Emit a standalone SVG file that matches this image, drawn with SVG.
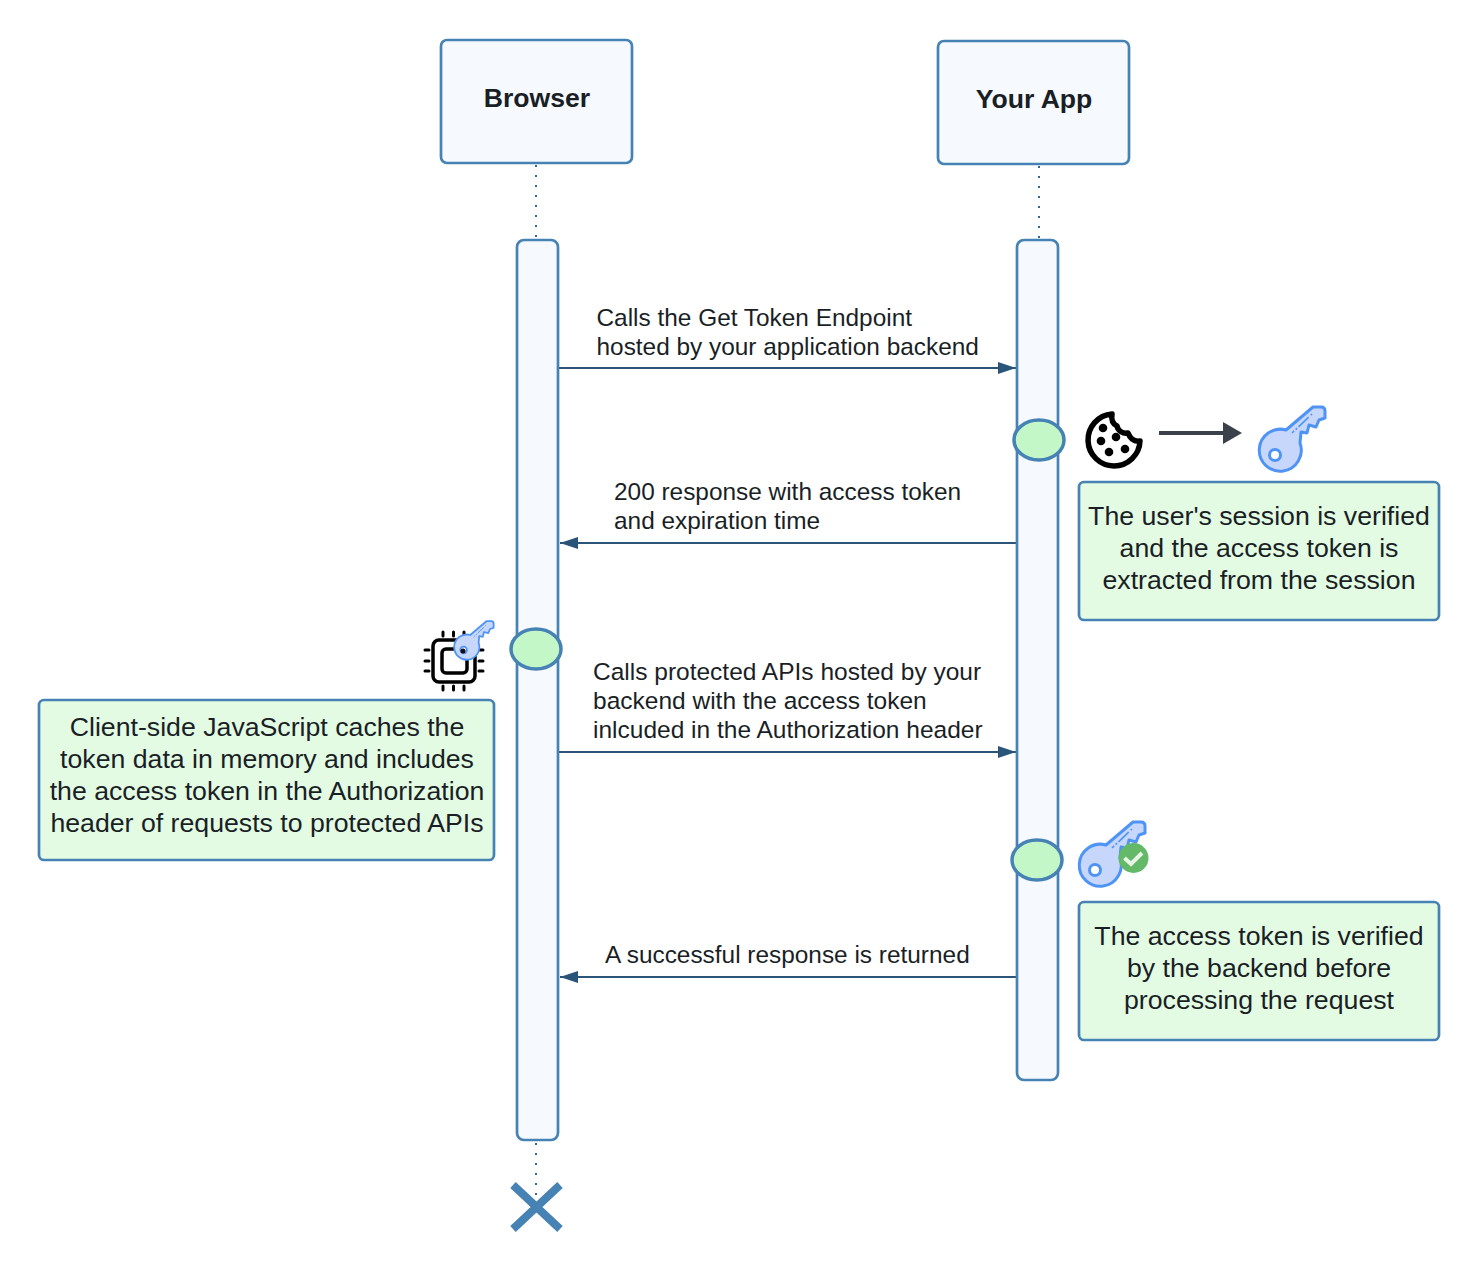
<svg xmlns="http://www.w3.org/2000/svg" width="1479" height="1274" viewBox="0 0 1479 1274">
<style>
text{font-family:"Liberation Sans",Arial,sans-serif;fill:#1a1f26}
.head{font-size:26.6px;font-weight:bold;text-anchor:middle}
.box{fill:#f6faff;stroke:#4682b4;stroke-width:2.7}
.note{fill:#e3fae3;stroke:#4682b4;stroke-width:2.7}
.nt{font-size:26.7px;text-anchor:middle}
.lb{font-size:24.4px}
.act{fill:#c3f7c8;stroke:#4682b4;stroke-width:3.5}
.life{stroke:#2f6a9a;stroke-width:2;stroke-dasharray:2 8;fill:none}
.msg{stroke:#2a5478;stroke-width:2;fill:none;marker-end:url(#ah)}
</style>
<defs>
<marker id="ah" markerUnits="userSpaceOnUse" markerWidth="20" markerHeight="12" refX="18" refY="6" orient="auto"><path d="M0,0L18,6L0,12Z" fill="#2a5478"/></marker>
<g id="key">
<path d="M27,25L54,2H62Q66,2 66,6V13L60,15L57,22L50,20L48,28L42,27L41,38A21,21 0 1 1 27,25Z" fill="#c6d7fb" stroke="#4f94f5" stroke-width="3" stroke-linejoin="round"/>
<path d="M33,28L53,9" stroke="#4f94f5" stroke-width="1.6" stroke-dasharray="3 2 2 2 14" fill="none"/>
<circle cx="16" cy="50" r="5.5" fill="#fff" stroke="#4f94f5" stroke-width="3"/>
</g>
</defs>
<rect width="1479" height="1274" fill="#fff"/>
<g id="connectors">
<path class="life" d="M536,165V238"/>
<path class="life" d="M1039,166V238"/>
<path class="life" d="M536,1143V1205"/>
<path class="msg" d="M559,368H1016"/>
<path class="msg" d="M1017,543H560"/>
<path class="msg" d="M559,752H1016"/>
<path class="msg" d="M1017,977H560"/>
</g>
<g id="browser"><rect class="box" x="441" y="40" width="191" height="123" rx="6"/><text class="head" x="537" y="107">Browser</text></g>
<g id="your-app"><rect class="box" x="938" y="41" width="191" height="123" rx="6"/><text class="head" x="1034" y="108">Your App</text></g>
<g id="browser-bar"><rect class="box" x="517" y="240" width="41" height="900" rx="7"/></g>
<g id="app-bar"><rect class="box" x="1017" y="240" width="41" height="840" rx="7"/></g>
<g id="activation-1"><ellipse class="act" cx="1039" cy="440" rx="25" ry="20"/></g>
<g id="activation-2"><ellipse class="act" cx="536" cy="649" rx="25" ry="20"/></g>
<g id="activation-3"><ellipse class="act" cx="1037" cy="860" rx="25" ry="20"/></g>
<g id="label-1"><text class="lb" x="596.5" y="326">Calls the Get Token Endpoint</text><text class="lb" x="596.5" y="355">hosted by your application backend</text></g>
<g id="label-2"><text class="lb" x="614" y="500">200 response with access token</text><text class="lb" x="614" y="529">and expiration time</text></g>
<g id="label-3"><text class="lb" x="593" y="680" style="font-size:24.5px">Calls protected APIs hosted by your</text><text class="lb" x="593" y="709" style="font-size:24.5px">backend with the access token</text><text class="lb" x="593" y="738" style="font-size:24.5px">inlcuded in the Authorization header</text></g>
<g id="label-4"><text class="lb" x="605" y="963">A successful response is returned</text></g>
<g id="note-session"><rect class="note" x="1079" y="482" width="360" height="138" rx="5"/>
<text class="nt" x="1259" y="524.5">The user's session is verified</text><text class="nt" x="1259" y="556.5">and the access token is</text><text class="nt" x="1259" y="588.5">extracted from the session</text></g>
<g id="note-client"><rect class="note" x="39" y="700" width="455" height="160" rx="5"/>
<text class="nt" x="267" y="735.5">Client-side JavaScript caches the</text><text class="nt" x="267" y="767.5">token data in memory and includes</text><text class="nt" x="267" y="799.5">the access token in the Authorization</text><text class="nt" x="267" y="831.5">header of requests to protected APIs</text></g>
<g id="note-verified"><rect class="note" x="1079" y="902" width="360" height="138" rx="5"/>
<text class="nt" x="1259" y="944.5">The access token is verified</text><text class="nt" x="1259" y="976.5">by the backend before</text><text class="nt" x="1259" y="1008.5">processing the request</text></g>
<g id="icon-cookie">
<path d="M1112,414A26,26 0 1 0 1140,441C1134,442 1130,438 1128,433C1123,434 1118,431 1117,426C1113,424 1111,420 1112,414Z" fill="#fff" stroke="#000" stroke-width="5.5" stroke-linejoin="round"/>
<g fill="#000"><circle cx="1103" cy="428" r="4.3"/><circle cx="1101" cy="441" r="4.3"/><circle cx="1116" cy="437" r="4.3"/><circle cx="1109" cy="452" r="4.3"/><circle cx="1125" cy="449" r="4.3"/></g>
</g>
<g id="icon-arrow"><path d="M1159,433H1225" stroke="#3a414a" stroke-width="4" fill="none"/><path d="M1223,422L1242,433L1223,444Z" fill="#3a414a"/></g>
<use id="icon-key-1" href="#key" x="1259" y="405"/>
<g id="icon-chip" fill="none" stroke="#000" stroke-width="3" stroke-linecap="round">
<rect x="433" y="640" width="42" height="42" rx="6" stroke-width="3.5"/>
<rect x="442" y="649" width="25" height="24" rx="4" stroke-width="3.5"/>
<path d="M443,632v4M453.500,632v4M464,632v4M443,686v4M453.500,686v4M464,686v4M425,650h4M425,661h4M425,671h4M479,650h4M479,661h4M479,671h4"/>
</g>
<use id="icon-key-2" href="#key" transform="translate(454,620) scale(0.6)"/>
<circle cx="463" cy="651" r="2.5" fill="#111"/>
<g id="icon-key-check">
<use href="#key" x="1079" y="820"/>
<circle cx="1133.500" cy="858" r="15" fill="#63b967"/>
<path d="M1124.500,858L1131,864L1142,853" fill="none" stroke="#e8f5e8" stroke-width="4"/>
</g>
<g id="destroy"><path d="M513,1185L560,1229M560,1185L513,1229" stroke="#4682b4" stroke-width="8" fill="none"/></g>
</svg>
